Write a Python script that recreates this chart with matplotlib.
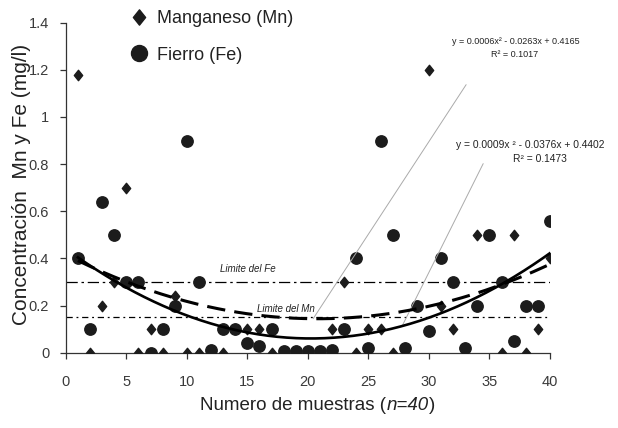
import numpy as np
import matplotlib
matplotlib.use('Agg')
import matplotlib.pyplot as plt
from matplotlib import font_manager
from matplotlib.path import Path
from matplotlib.lines import Line2D
from matplotlib.offsetbox import TextArea, HPacker, AnchoredOffsetbox

# concentraciones por muestra (mg/l)
muestra = np.arange(1, 41)
mn = [1.18, 0.00, 0.20, 0.30, 0.70, 0.00, 0.10, 0.00, 0.24, 0.00,
      0.00, 0.00, 0.00, 0.10, 0.10, 0.10, 0.00, 0.00, 0.00, 0.00,
      0.00, 0.10, 0.30, 0.00, 0.10, 0.10, 0.00, 0.02, 0.20, 1.20,
      0.20, 0.10, 0.02, 0.50, 0.50, 0.00, 0.50, 0.00, 0.10, 0.40]
fe = [0.40, 0.10, 0.64, 0.50, 0.30, 0.30, 0.00, 0.10, 0.20, 0.90,
      0.30, 0.01, 0.10, 0.10, 0.04, 0.03, 0.10, 0.005, 0.005, 0.005,
      0.005, 0.01, 0.10, 0.40, 0.02, 0.90, 0.50, 0.02, 0.20, 0.09,
      0.40, 0.30, 0.02, 0.20, 0.50, 0.30, 0.05, 0.20, 0.20, 0.56]
lim_fe = 0.30
lim_mn = 0.15
eq_fe = ['y = 0.0006x\u00b2 - 0.0263x + 0.4165', 'R\u00b2 = 0.1017']
eq_mn = ['y = 0.0009x \u00b2 - 0.0376x + 0.4402', 'R\u00b2 = 0.1473']


def pick_font(names):
    for n in names:
        try:
            font_manager.findfont(n, fallback_to_default=False)
            return n
        except ValueError:
            pass
    return 'DejaVu Sans'


base = pick_font(['Liberation Sans Narrow', 'Arial Narrow', 'Liberation Sans'])
plt.rcParams['font.family'] = [base, 'DejaVu Sans']

fig = plt.figure(figsize=(6.18, 4.28), dpi=100)
ax = fig.add_axes([0.1065, 0.176, 0.7835, 0.771])

mk = '#1c1c1c'
diamond = Path([(0, 1), (0.8, 0), (0, -1), (-0.8, 0), (0, 1)],
               [Path.MOVETO, Path.LINETO, Path.LINETO, Path.LINETO, Path.CLOSEPOLY])

ax.plot(muestra, fe, 'o', color=mk, ms=8.2, zorder=3)
ax.plot(muestra, mn, marker=diamond, ls='none', color=mk, ms=7.5, zorder=4)

# tendencias polinomiales de 2o grado
xx = np.linspace(1, 40, 200)
p_fe = np.poly1d(np.polyfit(muestra, fe, 2))
p_mn = np.poly1d(np.polyfit(muestra, mn, 2))
ax.plot(xx, p_mn(xx), color='black', lw=1.9, zorder=5)
ax.plot(xx, p_fe(xx), color='black', lw=2.2, ls=(0, (6, 3)), zorder=5)

# limites permisibles
ax.axhline(lim_fe, color='black', lw=0.9, ls=(0, (9, 3, 2, 3)))
ax.axhline(lim_mn, color='black', lw=0.9, ls=(0, (5, 3, 1.5, 3)))
ax.text(15, lim_fe + 0.055, 'Limite del Fe', style='italic', fontsize=7,
        ha='center', va='center', color='#222222')
ax.text(18.2, lim_mn + 0.037, 'Limite del Mn', style='italic', fontsize=7,
        ha='center', va='center', color='#222222')

# ecuaciones de las tendencias
ax.text(37.2, 1.321, eq_fe[0], fontsize=6.5, ha='center', va='center', color='#222222')
ax.text(37.1, 1.263, eq_fe[1], fontsize=6.5, ha='center', va='center', color='#222222')
ax.text(38.4, 0.880, eq_mn[0], fontsize=7.4, ha='center', va='center', color='#222222')
ax.text(39.2, 0.823, eq_mn[1], fontsize=7.4, ha='center', va='center', color='#222222')
ax.annotate('', xy=(20.43, p_fe(20.43)), xytext=(33.07, 1.137),
            arrowprops=dict(arrowstyle='-', color='#aaaaaa', lw=0.7, shrinkA=0, shrinkB=0))
ax.annotate('', xy=(27.78, p_mn(27.78)), xytext=(34.48, 0.802),
            arrowprops=dict(arrowstyle='-', color='#aaaaaa', lw=0.7, shrinkA=0, shrinkB=0))

ax.set_xlim(0, 40)
ax.set_ylim(0, 1.4)
ax.set_xticks(np.arange(0, 41, 5))
ax.set_yticks(np.arange(0, 1.41, 0.2))
ax.set_yticklabels(['0', '0.2', '0.4', '0.6', '0.8', '1', '1.2', '1.4'])
for s in ['top', 'right']:
    ax.spines[s].set_visible(False)
for s in ['left', 'bottom']:
    ax.spines[s].set_color('#333333')
    ax.spines[s].set_linewidth(0.9)
ax.tick_params(axis='both', direction='out', length=4, width=0.9, color='#333333',
               labelsize=10.5, labelcolor='#3a3a3a')
ax.tick_params(axis='x', pad=12)
ax.tick_params(axis='y', pad=8)

ax.set_ylabel('Concentraci\u00f3n  Mn y Fe (mg/l)', fontsize=15, color='#222222', va='center')
ax.yaxis.set_label_coords(-0.092, 0.51)

# eje x: etiqueta con "n=40" en cursiva
xprops = dict(fontsize=13.5, color='#222222')
xlab = HPacker(children=[TextArea('Numero de muestras (', textprops=xprops),
                         TextArea('n=40', textprops=dict(xprops, style='italic')),
                         TextArea(')', textprops=xprops)],
               align='baseline', pad=0, sep=0)
ax.add_artist(AnchoredOffsetbox(loc='center', child=xlab, frameon=False, pad=0,
                                borderpad=0, bbox_to_anchor=(0.52, -0.16),
                                bbox_transform=ax.transAxes))

handles = [Line2D([], [], marker=diamond, ls='none', color=mk, ms=11),
           Line2D([], [], marker='o', ls='none', color=mk, ms=11.5)]
fig.legend(handles, ['Manganeso (Mn)', 'Fierro (Fe)'], loc='upper left',
           bbox_to_anchor=(0.1845, 1.015), frameon=False, fontsize=13,
           handlelength=1.0, handletextpad=0.5, labelspacing=1.1, labelcolor='#222222')

fig.savefig('out.png', dpi=100)
